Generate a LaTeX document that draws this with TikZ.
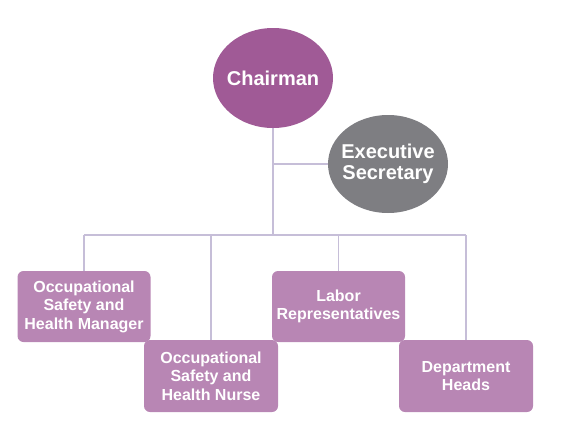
\documentclass[tikz,border=0pt]{standalone}
\usepackage{fontspec}
\setmainfont{Liberation Sans}
\usetikzlibrary{shapes.geometric}
\definecolor{chair}{HTML}{A05A96}
\definecolor{secr}{HTML}{7E7E82}
\definecolor{boxc}{HTML}{B886B4}
\definecolor{linec}{HTML}{C6BED8}
\tikzset{
  oval/.style={ellipse, inner ysep=0pt, text=white, align=center,
    font=\bfseries\fontsize{20}{21}\selectfont},
  rolebox/.style={rectangle, rounded corners=6pt, fill=boxc, text=white,
    align=center, minimum width=133pt, minimum height=71pt, inner sep=0pt,
    font=\bfseries\fontsize{16}{18.5}\selectfont},
  conn/.style={draw=linec, line width=1.2pt}
}
\begin{document}
\begin{tikzpicture}[x=1pt,y=-1pt]
\useasboundingbox (0,0) rectangle (564,439);
\node[oval, fill=chair, inner xsep=-4pt, minimum width=120pt, minimum height=100pt] (chair) at (273,78) {Chairman};
\node[oval, fill=secr, inner xsep=-7pt, minimum width=120pt, minimum height=98pt] (sec) at (388,164) {Executive\\Secretary};
\coordinate (bus) at (273,235);
\coordinate (j) at (273,164);
\coordinate (b1) at (84,235);
\coordinate (b2) at (211,235);
\coordinate (b3) at (338.5,235);
\coordinate (b4) at (466,235);
\node[rolebox] (osm) at (84,306.5) {Occupational\\Safety and\\Health Manager};
\node[rolebox, minimum width=134pt, minimum height=72pt] (osn) at (211,376) {Occupational\\Safety and\\Health Nurse};
\node[rolebox] (lab) at (338.5,306.5) {Labor\\Representatives};
\node[rolebox, minimum width=134pt, minimum height=72pt] (dep) at (466,376) {Department\\Heads};
\draw[conn] (chair.south) -- (bus);
\draw[conn] (j) -- (sec.west);
\draw[conn] (b1) -- (b4);
\draw[conn] (b1) -- (osm.north);
\draw[conn] (b2) -- (osn.north);
\draw[conn] (b3) -- (lab.north);
\draw[conn] (b4) -- (dep.north);
\end{tikzpicture}
\end{document}
